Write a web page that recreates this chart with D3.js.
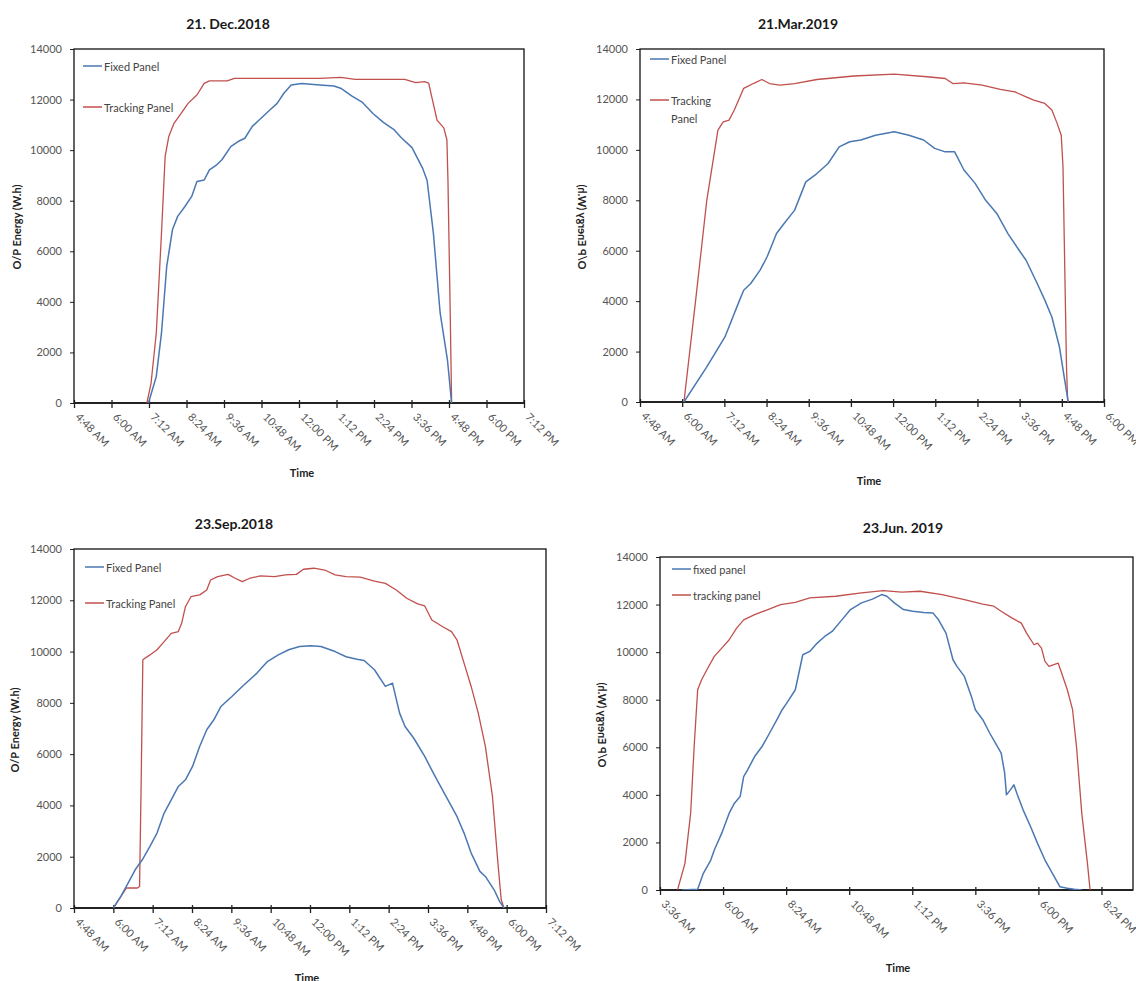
<!DOCTYPE html>
<html>
<head>
<meta charset="utf-8">
<script src="https://cdn.jsdelivr.net/npm/d3@7"></script>
<style>
  body { margin: 0; background: #fff; }
  svg { display: block; font-family: Lato, "Liberation Sans", sans-serif; }
</style>
</head>
<body>
<svg id="chart" width="1136" height="981"></svg>
<script>
// times are minutes after midnight, values are W.h

// 21 Dec 2018
const decFixedTime = [431, 446, 456, 466, 477, 487, 501, 514, 524, 538, 548, 562, 572, 589, 603, 616, 630, 644, 664, 678, 691, 705, 725, 760, 787, 800, 821, 841, 862, 882, 903, 916, 937, 957, 966, 978, 991, 1005, 1013];
const decFixedVal  = [0, 1050, 2770, 5400, 6850, 7380, 7770, 8170, 8760, 8820, 9220, 9420, 9620, 10140, 10340, 10470, 10930, 11200, 11590, 11850, 12250, 12580, 12640, 12580, 12540, 12450, 12150, 11900, 11450, 11100, 10800, 10500, 10100, 9300, 8800, 6720, 3560, 1710, 0];
const decTrackTime = [428, 436, 446, 456, 463, 470, 480, 494, 507, 524, 538, 548, 582, 596, 760, 800, 828, 923, 944, 961, 969, 975, 985, 998, 1004, 1006, 1010, 1013];
const decTrackVal  = [0, 790, 2770, 6720, 9750, 10540, 11060, 11460, 11850, 12180, 12640, 12740, 12740, 12840, 12840, 12880, 12800, 12800, 12670, 12710, 12650, 12100, 11190, 10880, 10400, 8800, 4000, 0];

// 21 Mar 2019
const marFixedTime = [363, 402, 433, 458, 465, 477, 493, 505, 521, 534, 552, 571, 590, 609, 628, 646, 665, 690, 722, 747, 772, 791, 809, 825, 841, 860, 878, 897, 916, 935, 947, 966, 979, 991, 1004, 1013, 1019];
const marFixedVal  = [0, 1390, 2580, 4040, 4430, 4700, 5230, 5760, 6680, 7080, 7610, 8730, 9060, 9460, 10120, 10320, 10390, 10580, 10720, 10580, 10390, 10060, 9920, 9920, 9200, 8670, 8000, 7480, 6680, 6020, 5620, 4700, 4040, 3370, 2180, 860, 0];
const marTrackTime = [363, 383, 402, 421, 430, 440, 449, 465, 484, 496, 509, 527, 552, 590, 653, 722, 778, 809, 822, 841, 872, 903, 928, 947, 960, 979, 991, 1000, 1007, 1010, 1013, 1016, 1018];
const marTrackVal  = [0, 4040, 8000, 10780, 11110, 11180, 11580, 12440, 12660, 12790, 12630, 12570, 12630, 12790, 12930, 13000, 12900, 12830, 12630, 12660, 12570, 12400, 12300, 12100, 11970, 11840, 11580, 11050, 10580, 9330, 5360, 1390, 0];

// 23 Sep 2018
const sepFixedTime = [360, 374, 387, 400, 413, 427, 440, 453, 466, 479, 492, 505, 518, 531, 544, 557, 577, 596, 623, 642, 662, 681, 701, 721, 740, 766, 786, 806, 819, 838, 858, 871, 884, 894, 910, 930, 949, 969, 989, 1002, 1015, 1031, 1041, 1057, 1067, 1075];
const sepFixedVal  = [0, 460, 970, 1490, 1880, 2400, 2920, 3700, 4220, 4740, 5000, 5520, 6300, 6950, 7340, 7860, 8250, 8640, 9160, 9610, 9870, 10070, 10200, 10230, 10200, 10000, 9800, 9700, 9650, 9290, 8640, 8770, 7600, 7080, 6620, 5910, 5130, 4350, 3570, 2920, 2140, 1430, 1230, 710, 260, 0];
const sepTrackTime = [360, 384, 404, 408, 411, 414, 427, 440, 453, 466, 479, 485, 492, 502, 518, 531, 538, 551, 570, 583, 596, 610, 629, 655, 675, 695, 708, 727, 747, 766, 786, 812, 838, 858, 878, 897, 917, 930, 943, 963, 979, 989, 1002, 1015, 1028, 1041, 1054, 1064, 1070, 1075];
const sepTrackVal  = [0, 780, 780, 840, 5000, 9680, 9870, 10070, 10390, 10710, 10780, 11100, 11750, 12140, 12210, 12400, 12790, 12920, 13010, 12860, 12730, 12860, 12950, 12920, 12990, 13010, 13210, 13250, 13180, 12990, 12920, 12900, 12750, 12660, 12400, 12080, 11860, 11780, 11230, 10970, 10780, 10460, 9550, 8640, 7600, 6300, 4350, 1750, 330, 0];

// 23 Jun 2019
const junFixedTime = [265, 302, 315, 332, 340, 357, 374, 386, 399, 407, 416, 432, 449, 466, 483, 495, 508, 525, 542, 558, 575, 592, 609, 625, 651, 676, 701, 722, 734, 751, 772, 793, 818, 839, 852, 869, 885, 894, 911, 927, 936, 953, 969, 982, 995, 1003, 1007, 1016, 1024, 1032, 1045, 1062, 1078, 1095, 1112, 1129, 1146, 1162, 1179];
const junFixedVal  = [0, 30, 700, 1260, 1680, 2390, 3230, 3650, 3930, 4770, 5050, 5610, 6030, 6590, 7160, 7580, 7930, 8420, 9890, 10030, 10380, 10660, 10870, 11220, 11790, 12070, 12230, 12420, 12350, 12070, 11790, 11720, 11670, 11650, 11360, 10800, 9680, 9400, 8980, 8140, 7580, 7160, 6590, 6170, 5750, 4910, 4000, 4210, 4420, 4000, 3370, 2670, 1960, 1260, 700, 140, 70, 30, 0];
const junTrackTime = [256, 273, 286, 294, 302, 311, 323, 340, 357, 374, 391, 407, 432, 458, 491, 525, 558, 617, 676, 726, 768, 810, 860, 911, 953, 978, 995, 1020, 1041, 1053, 1070, 1078, 1087, 1095, 1104, 1125, 1133, 1146, 1158, 1167, 1179, 1192, 1198];
const junTrackVal  = [0, 1120, 3230, 6030, 8420, 8840, 9260, 9820, 10170, 10520, 11010, 11360, 11580, 11760, 12000, 12090, 12280, 12350, 12490, 12590, 12520, 12560, 12420, 12210, 12020, 11930, 11720, 11430, 11220, 10800, 10310, 10380, 10170, 9610, 9400, 9540, 9120, 8420, 7580, 6030, 3230, 1120, 0];

const titles = ['21. Dec.2018', '21.Mar.2019', '23.Sep.2018', '23.Jun. 2019'];
const legendNames = [
  ['Fixed Panel', 'Tracking Panel'],
  ['Fixed Panel', 'Tracking|Panel'],
  ['Fixed Panel', 'Tracking Panel'],
  ['fixed panel', 'tracking panel']
];
const yTicks = [0, 2000, 4000, 6000, 8000, 10000, 12000, 14000];
const yLabel = 'O/P Energy (W.h)';
const xLabel = 'Time';

const BLUE = '#4a78b2';
const RED = '#c0504d';

const svg = d3.select('#chart');

const panels = [
  { title: titles[0], tx: 228, ty: 23, left: 74, right: 524, top: 49, bottom: 403,
    domain: [288, 1152], step: 72, lastTick: 1152, ylx: 16, yly: 227, mirror: false, xlx: 302, xly: 472,
    leg: { dx: 9, y1: 17, y2: 58 }, names: legendNames[0],
    fixed: [decFixedTime, decFixedVal], track: [decTrackTime, decTrackVal] },
  { title: titles[1], tx: 798, ty: 23, left: 640, right: 1104, top: 49, bottom: 402,
    domain: [288, 1080], step: 72, lastTick: 1080, ylx: 582, yly: 227, mirror: true, xlx: 869, xly: 480,
    leg: { dx: 10, y1: 10, y2: 51 }, names: legendNames[1],
    fixed: [marFixedTime, marFixedVal], track: [marTrackTime, marTrackVal] },
  { title: titles[2], tx: 234, ty: 523, left: 74, right: 546, top: 549, bottom: 908,
    domain: [288, 1152], step: 72, lastTick: 1152, ylx: 14, yly: 730, mirror: false, xlx: 307, xly: 977,
    leg: { dx: 11, y1: 18, y2: 54 }, names: legendNames[2],
    fixed: [sepFixedTime, sepFixedVal], track: [sepTrackTime, sepTrackVal] },
  { title: titles[3], tx: 903, ty: 527, left: 660, right: 1133, top: 557, bottom: 890,
    domain: [216, 1296], step: 144, lastTick: 1224, ylx: 602, yly: 725, mirror: true, xlx: 898, xly: 967,
    leg: { dx: 12, y1: 12, y2: 38 }, names: legendNames[3],
    fixed: [junFixedTime, junFixedVal], track: [junTrackTime, junTrackVal] }
];

function fmtTime(m) {
  let h = Math.floor(m / 60), mm = m % 60;
  const ap = h >= 12 ? 'PM' : 'AM';
  h = h % 12; if (h === 0) h = 12;
  return `${h}:${String(mm).padStart(2, '0')} ${ap}`;
}

function drawPanel(p, idx) {
  const w = p.right - p.left, h = p.bottom - p.top;
  const x = d3.scaleLinear().domain(p.domain).range([0, w]);
  const y = d3.scaleLinear().domain([0, 14000]).range([h, 0]);

  svg.append('text')
    .attr('x', p.tx).attr('y', p.ty)
    .attr('text-anchor', 'middle').attr('dominant-baseline', 'central')
    .attr('font-size', 14).attr('font-weight', 'bold').attr('fill', '#1a1a1a')
    .text(p.title);

  const g = svg.append('g').attr('transform', `translate(${p.left},${p.top})`);

  const clipId = 'clip' + idx;
  g.append('clipPath').attr('id', clipId)
    .append('rect').attr('x', 0).attr('y', -2).attr('width', w).attr('height', h + 2);

  // y axis
  const yAxis = g.append('g').call(d3.axisLeft(y).tickValues(yTicks).tickFormat(d3.format('d'))
    .tickSize(4).tickSizeOuter(0).tickPadding(8));
  yAxis.select('.domain').remove();
  yAxis.selectAll('line').attr('stroke', '#222');
  yAxis.selectAll('text').attr('font-size', 11).attr('fill', '#555').attr('font-family', 'Lato, sans-serif');

  // x axis
  const xTicks = d3.range(p.domain[0], p.lastTick + 1, p.step);
  const xAxis = g.append('g').attr('transform', `translate(0,${h})`)
    .call(d3.axisBottom(x).tickValues(xTicks).tickFormat(fmtTime).tickSize(5).tickSizeOuter(0));
  xAxis.select('.domain').remove();
  xAxis.selectAll('line').attr('y1', -3).attr('y2', 5).attr('stroke', '#222').attr('stroke-width', 1.3);
  xAxis.selectAll('text')
    .attr('font-size', 11).attr('fill', '#555').attr('font-family', 'Lato, sans-serif')
    .attr('text-anchor', 'start').attr('x', 0).attr('y', 0).attr('dy', '0.35em')
    .attr('transform', 'translate(3,12) rotate(45)');

  // plot frame
  g.append('rect').attr('width', w).attr('height', h)
    .attr('fill', 'none').attr('stroke', '#111').attr('stroke-width', 1.3);
  g.append('line').attr('x1', 0).attr('x2', w).attr('y1', h).attr('y2', h)
    .attr('stroke', '#222').attr('stroke-width', 2);

  const line = d3.line().x(d => x(d[0])).y(d => y(d[1]));
  const fixedPts = d3.zip(p.fixed[0], p.fixed[1]);
  const trackPts = d3.zip(p.track[0], p.track[1]);

  const lines = g.append('g').attr('clip-path', `url(#${clipId})`);
  lines.append('path').datum(trackPts).attr('d', line)
    .attr('fill', 'none').attr('stroke', RED).attr('stroke-width', 1.3).attr('stroke-linejoin', 'round');
  lines.append('path').datum(fixedPts).attr('d', line)
    .attr('fill', 'none').attr('stroke', BLUE).attr('stroke-width', 1.5).attr('stroke-linejoin', 'round');

  // legend
  const leg = g.append('g').attr('font-size', 11).attr('fill', '#444');
  [[p.names[0], BLUE, p.leg.y1], [p.names[1], RED, p.leg.y2]].forEach(([name, col, ly]) => {
    leg.append('line').attr('x1', p.leg.dx).attr('x2', p.leg.dx + 19).attr('y1', ly).attr('y2', ly)
      .attr('stroke', col).attr('stroke-width', 1.5);
    const parts = name.split('|');
    parts.forEach((t, i) => {
      leg.append('text').attr('x', p.leg.dx + 21).attr('y', ly + i * 18)
        .attr('dominant-baseline', 'central').text(t);
    });
  });

  // axis titles
  svg.append('text')
    .attr('transform', `translate(${p.ylx},${p.yly}) rotate(-90)` + (p.mirror ? ' scale(1,-1)' : ''))
    .attr('text-anchor', 'middle').attr('dominant-baseline', 'central')
    .attr('font-size', 11).attr('font-weight', 'bold').attr('fill', '#222')
    .text(yLabel);
  svg.append('text')
    .attr('x', p.xlx).attr('y', p.xly)
    .attr('text-anchor', 'middle').attr('dominant-baseline', 'central')
    .attr('font-size', 11).attr('font-weight', 'bold').attr('fill', '#222')
    .text(xLabel);
}

panels.forEach(drawPanel);
</script>
</body>
</html>
